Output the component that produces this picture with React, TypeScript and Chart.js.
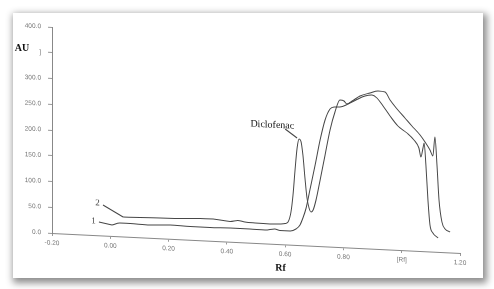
import React, { useEffect, useRef } from "react";
import { Chart, registerables } from "chart.js";

Chart.register(...registerables);

// Curve 1 (lower baseline)
const rf1 = [0.006,0.033,0.068,0.136,0.205,0.274,0.342,0.411,0.479,0.531,0.565,0.582,0.617,0.637,0.651,0.661,0.672,0.685,0.703,0.720,0.737,0.754,0.768,0.788,0.816,0.843,0.874,0.898,0.915,0.936,0.960,0.987,1.018,1.042,1.059,1.066,1.073,1.077,1.083,1.090,1.097,1.107,1.125];
const au1 = [21.2,25.9,25.8,24.8,26.7,25.7,25.6,26.6,26.5,26.0,28.9,26.5,26.5,30.9,39.0,52.9,72.6,108,157,206,245.3,267.1,271.4,271.9,278.5,287.1,295.7,298.3,292.9,278,259.2,240.5,227.8,214.9,199.8,182.5,200.2,210,167.5,99.7,51.4,36.1,26.9];

// Curve 2 (upper baseline, with Diclofenac peak)
const rf2 = [0.044,0.102,0.171,0.239,0.308,0.353,0.411,0.438,0.462,0.497,0.548,0.582,0.600,0.610,0.620,0.627,0.634,0.641,0.648,0.654,0.661,0.668,0.675,0.682,0.689,0.696,0.706,0.720,0.737,0.754,0.771,0.788,0.802,0.812,0.830,0.857,0.891,0.919,0.943,0.960,0.984,1.011,1.035,1.063,1.080,1.097,1.107,1.114,1.121,1.128,1.138,1.149,1.166];
const au2 = [37.8,38.4,39.4,40.3,42.2,42.4,39.2,41.9,39.7,38.7,38.1,39.1,40.5,43.7,63.4,96.6,145.4,188.2,205.9,202.2,175.2,130.8,92.1,72.9,65.3,69.4,89.1,128.3,177.3,226.3,261.8,285.5,284.0,278.4,284.7,295.2,302.0,306.6,305.3,290.3,273.5,256.8,241.9,225.2,212.0,197.0,185.6,222.7,168.5,100.8,58.3,45.0,39.7];

const xTickValues = [-0.2, 0, 0.2, 0.4, 0.6, 0.8, 1.0, 1.2];
const xTickLabels = ["-0.20", "0.00", "0.20", "0.40", "0.60", "0.80", "[Rf]", "1.20"];
const yTickValues = [0, 50, 100, 150, 200, 250, 300, 350, 400];
const yTickLabels = ["0.0", "50.0", "100.0", "150.0", "200.0", "250.0", "300.0", "]", "400.0"];

const xTitle = "Rf";
const yTitle = "AU";

// Annotations: label text, label position (Rf, AU), leader start, leader end
const noteTexts = ["1", "2", "Diclofenac"];
const noteX = [-0.058, -0.044, 0.556];
const noteY = [27.3, 62.6, 230.6];
const leadFromX = [-0.039, -0.025, 0.600];
const leadFromY = [25.8, 59.2, 224];
const leadToX = [0.006, 0.044, 0.641];
const leadToY = [21.2, 37.8, 207.7];

const SHEAR = 0.0488;

const shearPlugin = {
  id: "shear",
  beforeDraw(chart: any) {
    const ctx = chart.ctx;
    const x0 = chart.chartArea.left;
    ctx.save();
    ctx.transform(1, SHEAR, 0, 1, 0, -SHEAR * x0);
  },
  afterDatasetsDraw(chart: any) {
    const ctx = chart.ctx;
    const xs = chart.scales.x;
    const ys = chart.scales.y;
    ctx.save();
    ctx.strokeStyle = "#444";
    ctx.lineWidth = 1;
    for (let i = 0; i < noteTexts.length; i++) {
      ctx.beginPath();
      ctx.moveTo(xs.getPixelForValue(leadFromX[i]), ys.getPixelForValue(leadFromY[i]));
      ctx.lineTo(xs.getPixelForValue(leadToX[i]), ys.getPixelForValue(leadToY[i]));
      ctx.stroke();
      const big = noteTexts[i].length > 2;
      ctx.font = big ? "10px 'Liberation Serif', serif" : "9px 'Liberation Serif', serif";
      ctx.fillStyle = big ? "#111" : "#444";
      ctx.textAlign = "center";
      ctx.textBaseline = "middle";
      ctx.fillText(noteTexts[i], xs.getPixelForValue(noteX[i]), ys.getPixelForValue(noteY[i]));
    }
    // x axis title
    const ca = chart.chartArea;
    ctx.font = "bold 10px 'Liberation Serif', serif";
    ctx.fillStyle = "#111";
    ctx.fillText(xTitle, ca.left + 0.56 * (ca.right - ca.left), ca.bottom + 24);
    ctx.restore();
  },
  afterDraw(chart: any) {
    const ctx = chart.ctx;
    ctx.restore();
    const ca = chart.chartArea;
    ctx.save();
    ctx.font = "bold 10px 'Liberation Serif', serif";
    ctx.fillStyle = "#111";
    ctx.textAlign = "center";
    ctx.textBaseline = "middle";
    ctx.fillText(yTitle, ca.left - 30, ca.top + 21);
    ctx.restore();
  },
};

export default function App() {
  const ref = useRef<HTMLCanvasElement | null>(null);
  useEffect(() => {
    if (!ref.current) return;
    const tickFont = { family: "'Liberation Sans', Arial, sans-serif", size: 6.5 };
    const chart = new Chart(ref.current, {
      type: "line",
      data: {
        datasets: [
          {
            label: "1",
            data: rf1.map((x, i) => ({ x, y: au1[i] })),
            borderColor: "#474747",
            borderWidth: 1,
            pointRadius: 0,
            cubicInterpolationMode: "monotone",
            fill: false,
          },
          {
            label: "2",
            data: rf2.map((x, i) => ({ x, y: au2[i] })),
            borderColor: "#474747",
            borderWidth: 1,
            pointRadius: 0,
            cubicInterpolationMode: "monotone",
            fill: false,
          },
        ],
      },
      options: {
        animation: false,
        responsive: false,
        layout: { padding: { left: 0, top: 27, right: 34, bottom: 0 } },
        plugins: { legend: { display: false }, tooltip: { enabled: false } },
        scales: {
          x: {
            type: "linear",
            min: -0.2,
            max: 1.2,
            afterBuildTicks: (s: any) => {
              s.ticks = xTickValues.map((v) => ({ value: v }));
            },
            afterFit: (s: any) => {
              s.height = 56;
            },
            ticks: {
              callback: (_v: any, i: number) => xTickLabels[i],
              font: tickFont,
              color: "#777",
              padding: 3,
              maxRotation: 0,
              autoSkip: false,
            },
            grid: { drawOnChartArea: false, drawTicks: true, tickLength: 3, color: "#999" },
            border: { display: true, color: "#888", width: 1 },
          },
          y: {
            type: "linear",
            min: 0,
            max: 400,
            afterBuildTicks: (s: any) => {
              s.ticks = yTickValues.map((v) => ({ value: v }));
            },
            afterFit: (s: any) => {
              s.width = 52;
            },
            ticks: {
              callback: (_v: any, i: number) => yTickLabels[i],
              font: tickFont,
              color: "#777",
              padding: 7,
              autoSkip: false,
            },
            grid: { drawOnChartArea: false, drawTicks: true, tickLength: 4, color: "#999" },
            border: { display: true, color: "#888", width: 1 },
          },
        },
      },
      plugins: [shearPlugin],
    } as any);
    return () => chart.destroy();
  }, []);

  return (
    <div style={{ position: "absolute", left: 0, top: 0, width: 494, height: 289, background: "#fff", overflow: "hidden" }}>
      <div
        style={{
          position: "absolute",
          left: 13,
          top: 13,
          width: 470,
          height: 265,
          background: "#fff",
          boxShadow: "2px 3px 7px 2px rgba(0,0,0,0.45)",
        }}
      />
      <canvas ref={ref} width={494} height={289} style={{ position: "absolute", left: 0, top: 0 }} />
    </div>
  );
}
